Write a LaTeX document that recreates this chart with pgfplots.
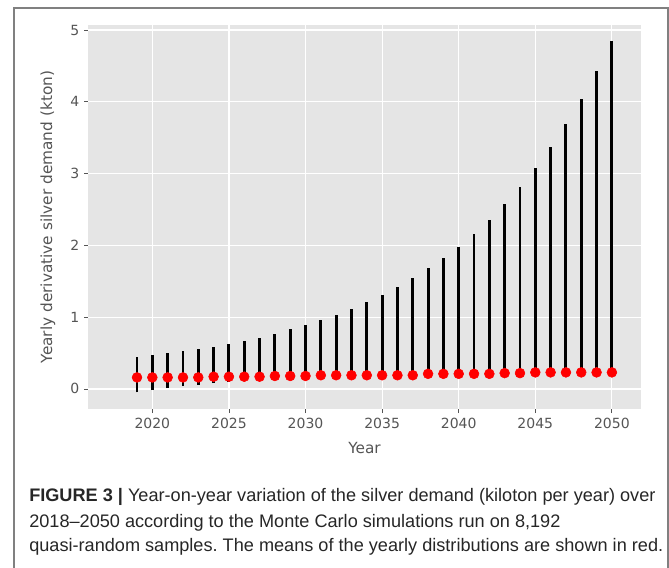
\documentclass[border=0pt]{standalone}
\usepackage{fontspec}
\setmainfont{DejaVu Sans}
\newfontfamily\capfont{Liberation Sans}
\usepackage{pgfplots}
\pgfplotsset{compat=1.18}
\usepackage{pgfplotstable}

\definecolor{ggbg}{HTML}{E5E5E5}
\definecolor{ticktext}{HTML}{555555}
\definecolor{framegray}{HTML}{808080}
\definecolor{captext}{HTML}{262626}

% year, lower end of the range, upper end of the range, mean
\pgfplotstableread{
year lo hi mean
2019 -0.05 0.45 0.16
2020 -0.01 0.47 0.16
2021 0.01 0.50 0.16
2022 0.04 0.53 0.16
2023 0.06 0.56 0.16
2024 0.08 0.59 0.17
2025 0.10 0.63 0.17
2026 0.12 0.67 0.17
2027 0.13 0.71 0.17
2028 0.14 0.77 0.18
2029 0.15 0.83 0.18
2030 0.15 0.89 0.18
2031 0.16 0.96 0.19
2032 0.16 1.03 0.19
2033 0.16 1.11 0.19
2034 0.17 1.21 0.19
2035 0.17 1.31 0.19
2036 0.17 1.42 0.19
2037 0.17 1.55 0.19
2038 0.18 1.68 0.21
2039 0.18 1.82 0.21
2040 0.18 1.98 0.21
2041 0.18 2.16 0.21
2042 0.18 2.36 0.21
2043 0.18 2.58 0.22
2044 0.18 2.81 0.22
2045 0.19 3.08 0.23
2046 0.19 3.37 0.23
2047 0.19 3.69 0.23
2048 0.19 4.04 0.23
2049 0.19 4.43 0.23
2050 0.19 4.85 0.23
}\silver

\begin{document}
\frenchspacing
\begin{tikzpicture}
\useasboundingbox (-66pt,-119.25pt) rectangle (435.75pt,306.75pt);
\draw[framegray, line width=1.2pt] (-55.5pt,-125pt) -- (-55.5pt,300.75pt) -- (435pt,300.75pt) -- (435pt,-125pt);

\begin{axis}[
    at={(0,0)}, anchor=south west,
    scale only axis, width=414.75pt, height=288pt,
    xmin=2015.8, xmax=2051.9,
    ymin=-0.28, ymax=5.07,
    axis background/.style={fill=ggbg},
    axis line style={draw=none},
    grid=major,
    major grid style={white, line width=0.9pt},
    xtick={2020,2025,...,2050},
    ytick={0,1,2,3,4,5},
    xtick pos=bottom, ytick pos=left,
    tick align=outside, major tick length=3pt,
    tick style={ticktext, line width=0.6pt},
    ticklabel style={font=\fontsize{10.5}{12}\selectfont, text=ticktext},
    /pgf/number format/assume math mode=true,
    /pgf/number format/1000 sep={},
    xlabel={Year},
    ylabel={Yearly derivative silver demand (kton)},
    label style={font=\fontsize{11.5}{13}\selectfont, text=ticktext},
    xlabel style={at={(axis description cs:0.5,-0.1016)}, anchor=center},
    ylabel style={at={(axis description cs:-0.0723,0.5)}, anchor=center},
]
\addplot[draw=none, mark=none, forget plot,
    error bars/.cd, y dir=plus, y explicit, error mark=none,
    error bar style={draw=black, line width=2.2pt}]
    table[x=year, y=lo, y error expr=\thisrow{hi}-\thisrow{lo}] {\silver};
\addplot[only marks, mark=*, mark size=3.7pt, color=red,
    mark options={draw=red, fill=red}]
    table[x=year, y=mean] {\silver};
\end{axis}

\begin{scope}[every node/.style={anchor=base west, inner sep=0pt, text=captext,
    font=\capfont\fontsize{13.6}{16}\selectfont}]
\node at (-44.25pt,-69.75pt) {\textbf{FIGURE 3 |} Year-on-year variation of the silver demand (kiloton per year) over};
\node at (-44.25pt,-88.5pt) {2018–2050 according to the Monte Carlo simulations run on 8,192};
\node at (-44.25pt,-107.25pt) {quasi-random samples. The means of the yearly distributions are shown in red.};
\end{scope}
\end{tikzpicture}
\end{document}
